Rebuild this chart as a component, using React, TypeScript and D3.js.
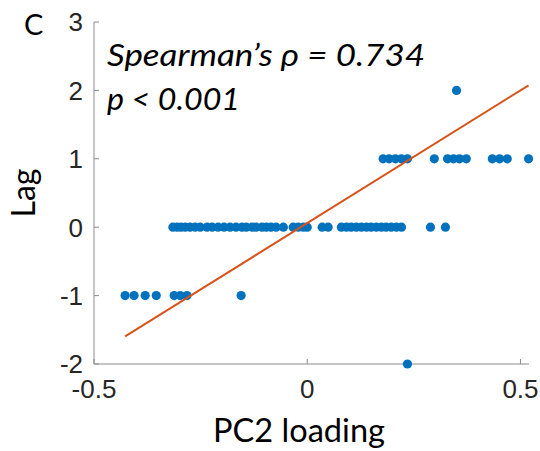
import React from "react";
import * as d3 from "d3";

const lagMinus2 = [0.235];
const lagMinus1 = [-0.427, -0.406, -0.38, -0.354, -0.312, -0.298, -0.282, -0.155];
const lag0 = [
  -0.315, -0.305, -0.296, -0.286, -0.275, -0.263, -0.251, -0.235, -0.223, -0.209,
  -0.195, -0.181, -0.167, -0.153, -0.143, -0.129, -0.12, -0.106, -0.096, -0.085,
  -0.073, -0.056, -0.033, -0.021, -0.009, 0.0, 0.035, 0.049, 0.08, 0.092, 0.103,
  0.115, 0.127, 0.139, 0.15, 0.162, 0.174, 0.185, 0.197, 0.209, 0.221, 0.289, 0.324,
];
const lag1 = [0.178, 0.192, 0.207, 0.221, 0.235, 0.298, 0.329, 0.343, 0.357, 0.373, 0.434, 0.451, 0.469, 0.519];
const lag2 = [0.35];

const fitSlope = 3.88;
const fitIntercept = 0.06;

const xTicks = [-0.5, 0, 0.5];
const yTicks = [-2, -1, 0, 1, 2, 3];
const xDomain: [number, number] = [-0.5, 0.52];
const yDomain: [number, number] = [-2, 3];

const W = 540;
const H = 451;

export default function App() {
  const x = d3.scaleLinear().domain(xDomain).range([94, 529]);
  const y = d3.scaleLinear().domain(yDomain).range([364, 22]);

  const points: { px: number; lag: number }[] = [];
  lagMinus2.forEach((v) => points.push({ px: v, lag: -2 }));
  lagMinus1.forEach((v) => points.push({ px: v, lag: -1 }));
  lag0.forEach((v) => points.push({ px: v, lag: 0 }));
  lag1.forEach((v) => points.push({ px: v, lag: 1 }));
  lag2.forEach((v) => points.push({ px: v, lag: 2 }));

  const [minX, maxX] = d3.extent(points, (d) => d.px) as [number, number];
  const fitLine = d3
    .line<number>()
    .x((v) => x(v))
    .y((v) => y(fitIntercept + fitSlope * v));

  const axisColor = "#8c8c8c";
  const tickText = "#262626";
  const sans = "'Liberation Sans', Arial, sans-serif";
  const labelFont = "Lato, 'Open Sans', sans-serif";

  return (
    <svg width={W} height={H} style={{ position: "absolute", left: 0, top: 0, background: "#fff" }}>
      {/* axes */}
      <line x1={x(xDomain[0])} x2={x(xDomain[1])} y1={y(yDomain[0])} y2={y(yDomain[0])} stroke={axisColor} strokeWidth={1} />
      <line x1={x(xDomain[0])} x2={x(xDomain[0])} y1={y(yDomain[0])} y2={y(yDomain[1])} stroke={axisColor} strokeWidth={1} />
      {xTicks.map((t) => (
        <g key={"x" + t}>
          <line x1={x(t)} x2={x(t)} y1={y(yDomain[0])} y2={y(yDomain[0]) - 5} stroke={axisColor} />
          <text x={x(t)} y={398} textAnchor="middle" fontFamily={sans} fontSize={26} fill={tickText}>
            {t === 0 ? "0" : String(t)}
          </text>
        </g>
      ))}
      {yTicks.map((t) => (
        <g key={"y" + t}>
          <line x1={x(xDomain[0])} x2={x(xDomain[0]) + 5} y1={y(t)} y2={y(t)} stroke={axisColor} />
          <text x={83} y={y(t)} dy="0.36em" textAnchor="end" fontFamily={sans} fontSize={26} fill={tickText}>
            {String(t)}
          </text>
        </g>
      ))}

      {/* points */}
      {points.map((d, i) => (
        <circle key={i} cx={x(d.px)} cy={y(d.lag)} r={4.6} fill="#0072BD" />
      ))}

      {/* fit line */}
      <path d={fitLine([minX, maxX]) || ""} stroke="#D95319" strokeWidth={2} fill="none" />

      {/* labels */}
      <text x={24} y={35} fontFamily={labelFont} fontSize={29} fill="#000">C</text>
      <text
        transform={`translate(35,${y(0.5)}) rotate(-90)`}
        textAnchor="middle"
        fontFamily={labelFont}
        fontSize={32}
        fill="#000"
      >
        Lag
      </text>
      <text x={299} y={442} textAnchor="middle" fontFamily={labelFont} fontSize={32} fill="#000" textLength={172} lengthAdjust="spacingAndGlyphs">
        PC2 loading
      </text>
      <text x={107} y={66} fontFamily={labelFont} fontStyle="italic" fontSize={30} fill="#000" textLength={318} lengthAdjust="spacingAndGlyphs">
        Spearman’s ρ = 0.734
      </text>
      <text x={107} y={110} fontFamily={labelFont} fontStyle="italic" fontSize={30} fill="#000" textLength={133} lengthAdjust="spacingAndGlyphs">
        p &lt; 0.001
      </text>
    </svg>
  );
}
